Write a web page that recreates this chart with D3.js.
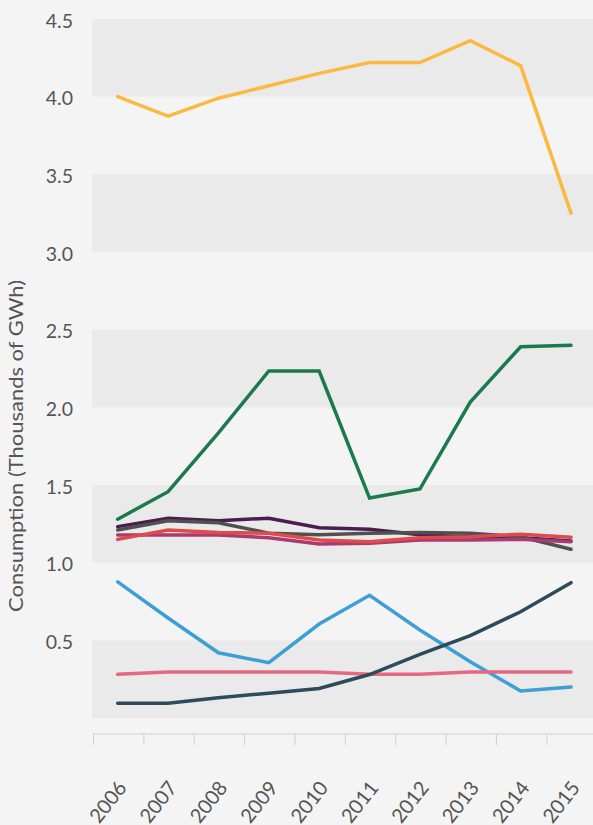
<!DOCTYPE html>
<html>
<head>
<meta charset="utf-8">
<script src="https://cdn.jsdelivr.net/npm/d3@7"></script>
<style>
  html, body { margin: 0; padding: 0; background: #f4f4f4; }
  svg { display: block; }
  text { font-family: Lato, "Open Sans", sans-serif; fill: #555; }
</style>
</head>
<body>
<svg id="chart" width="593" height="825"></svg>
<script>
const years = ["2006","2007","2008","2009","2010","2011","2012","2013","2014","2015"];
const yTicks = [0.5, 1.0, 1.5, 2.0, 2.5, 3.0, 3.5, 4.0, 4.5];
const yTitle = "Consumption (Thousands of GWh)";

const seriesYellow  = [4.00, 3.875, 3.99, 4.07, 4.15, 4.22, 4.22, 4.36, 4.20, 3.25];
const seriesGreen   = [1.28, 1.457, 1.835, 2.234, 2.234, 1.416, 1.474, 2.034, 2.39, 2.40];
const seriesPurple  = [1.232, 1.286, 1.27, 1.286, 1.225, 1.215, 1.18, 1.165, 1.16, 1.14];
const seriesGray    = [1.21, 1.27, 1.257, 1.19, 1.18, 1.19, 1.195, 1.19, 1.167, 1.086];
const seriesMagenta = [1.178, 1.178, 1.178, 1.16, 1.12, 1.125, 1.146, 1.146, 1.15, 1.135];
const seriesRed     = [1.15, 1.21, 1.195, 1.19, 1.146, 1.135, 1.16, 1.167, 1.183, 1.163];
const seriesBlue    = [0.876, 0.644, 0.42, 0.356, 0.605, 0.79, 0.567, 0.362, 0.174, 0.20];
const seriesPink    = [0.281, 0.296, 0.296, 0.296, 0.296, 0.281, 0.281, 0.296, 0.296, 0.296];
const seriesSlate   = [0.095, 0.095, 0.13, 0.16, 0.19, 0.28, 0.41, 0.53, 0.684, 0.871];

const series = [
  {values: seriesYellow,  color: "#fbb941"},
  {values: seriesGreen,   color: "#1b7a4d"},
  {values: seriesPurple,  color: "#4b1c50"},
  {values: seriesGray,    color: "#4f5050"},
  {values: seriesMagenta, color: "#a93a72"},
  {values: seriesRed,     color: "#e04a4a"},
  {values: seriesBlue,    color: "#3d9fd5"},
  {values: seriesPink,    color: "#e66983"},
  {values: seriesSlate,   color: "#2d4b5b"}
];

const svg = d3.select("#chart");
const W = 593;
const plotLeft = 92, plotRight = 593, plotTop = 19, plotBottom = 718;

const x = d3.scalePoint().domain(years).range([117.7, 571]);
const y = d3.scaleLinear().domain([0, 4.5]).range([plotBottom, plotTop]);

// alternating bands
const bandStarts = [0, 1.0, 2.0, 3.0, 4.0];
svg.append("g").selectAll("rect").data(bandStarts).join("rect")
  .attr("x", plotLeft).attr("width", plotRight - plotLeft)
  .attr("y", d => y(d + 0.5)).attr("height", d => y(d) - y(d + 0.5))
  .attr("fill", "#eaeaea");

// y labels
svg.append("g").selectAll("text").data(yTicks).join("text")
  .attr("x", 73).attr("y", d => y(d) + 2)
  .attr("dy", "0.35em")
  .attr("text-anchor", "end")
  .style("font-size", "19.5px")
  .text(d => d.toFixed(1));

// y title
svg.append("text")
  .attr("transform", `translate(23,446) rotate(-90)`)
  .attr("text-anchor", "middle")
  .attr("textLength", 332)
  .attr("lengthAdjust", "spacingAndGlyphs")
  .style("font-size", "20px")
  .text(yTitle);

// x axis
const step = x.step();
const axisY = 734;
svg.append("line").attr("x1", x(years[0]) - step / 2 + 0.5).attr("x2", W)
  .attr("y1", axisY).attr("y2", axisY).attr("stroke", "#cfcfcf").attr("stroke-width", 1);
svg.append("g").selectAll("line").data(years).join("line")
  .attr("x1", d => x(d) - step / 2 + 1).attr("x2", d => x(d) - step / 2 + 1)
  .attr("y1", axisY).attr("y2", axisY + 11)
  .attr("stroke", "#cfcfcf").attr("stroke-width", 1);

svg.append("g").selectAll("text").data(years).join("text")
  .attr("transform", d => `translate(${x(d) + 10},788) rotate(-52)`)
  .attr("text-anchor", "end")
  .style("font-size", "20px")
  .text(d => d);

// lines
const line = d3.line().x((d, i) => x(years[i])).y(d => y(d));
svg.append("g").selectAll("path").data(series).join("path")
  .attr("d", d => line(d.values))
  .attr("fill", "none")
  .attr("stroke", d => d.color)
  .attr("stroke-width", 3.5)
  .attr("stroke-linejoin", "miter")
  .attr("stroke-linecap", "round");
</script>
</body>
</html>
